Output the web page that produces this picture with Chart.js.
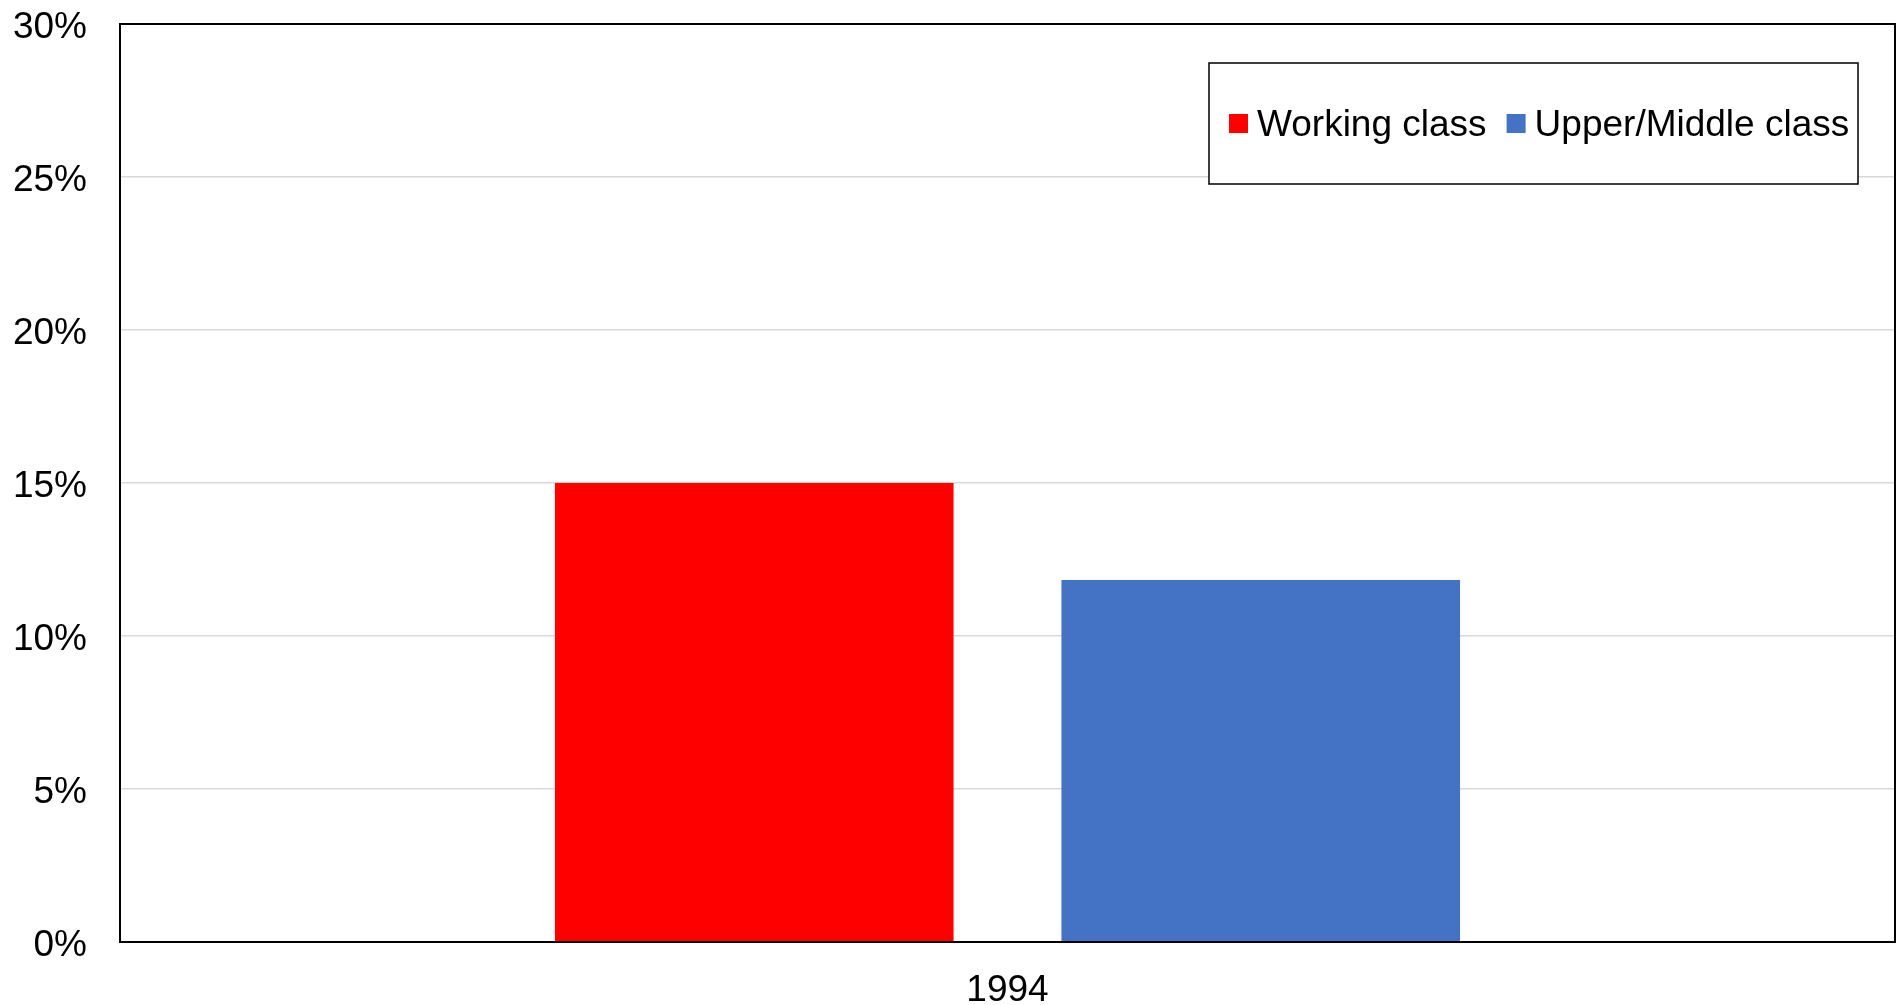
<!DOCTYPE html>
<html>
<head>
<meta charset="utf-8">
<script src="https://cdn.jsdelivr.net/npm/chart.js@4/dist/chart.umd.min.js"></script>
<style>
  html, body { margin: 0; padding: 0; background: #ffffff; }
  #wrap { width: 1896px; height: 1005px; position: relative; }
</style>
</head>
<body>
<div id="wrap"><canvas id="c" width="1896" height="1005"></canvas></div>
<script>
const categories = ['1994'];
const seriesLabels = ['Working class', 'Upper/Middle class'];
const workingClass = [15];
const upperMiddleClass = [11.83];
const seriesColors = ['#ff0000', '#4472c4'];
const yTickValues = [0, 5, 10, 15, 20, 25, 30];

const FONT = '"Liberation Sans", Arial, sans-serif';

const frameAndLegend = {
  id: 'frameAndLegend',
  afterDraw(chart) {
    const ctx = chart.ctx;
    const a = chart.chartArea;
    ctx.save();
    // plot frame
    ctx.strokeStyle = '#000000';
    ctx.lineWidth = 2;
    ctx.strokeRect(a.left, a.top, a.right - a.left, a.bottom - a.top);
    // legend box
    const bx = 1209, by = 63, bw = 649, bh = 121;
    ctx.fillStyle = '#ffffff';
    ctx.fillRect(bx, by, bw, bh);
    ctx.lineWidth = 1.5;
    ctx.strokeRect(bx, by, bw, bh);
    const cy = 123.5;
    ctx.font = '37px ' + FONT;
    ctx.textBaseline = 'middle';
    ctx.textAlign = 'left';
    let x = 1229;
    chart.data.datasets.forEach((ds) => {
      ctx.fillStyle = ds.backgroundColor;
      ctx.fillRect(x, cy - 9.5, 19, 19);
      ctx.fillStyle = '#000000';
      ctx.fillText(ds.label, x + 28, cy + 2);
      x = x + 28 + ctx.measureText(ds.label).width + 20;
    });
    ctx.restore();
  }
};

new Chart(document.getElementById('c'), {
  type: 'bar',
  data: {
    labels: categories,
    datasets: [
      { label: seriesLabels[0], data: workingClass, backgroundColor: seriesColors[0], borderWidth: 0 },
      { label: seriesLabels[1], data: upperMiddleClass, backgroundColor: seriesColors[1], borderWidth: 0 }
    ]
  },
  options: {
    responsive: false,
    animation: false,
    devicePixelRatio: 1,
    layout: { padding: { top: 24, right: 1, left: 0, bottom: 0 } },
    datasets: { bar: { categoryPercentage: 0.5707, barPercentage: 0.787 } },
    plugins: {
      legend: { display: false },
      tooltip: { enabled: false },
      title: { display: false }
    },
    scales: {
      x: {
        grid: { display: false, drawTicks: false },
        border: { display: true, color: '#000000', width: 2 },
        ticks: { color: '#000000', font: { family: FONT, size: 37 }, padding: 27 },
        afterFit(scale) { scale.height = 63; scale.paddingLeft = 0; scale.paddingRight = 0; }
      },
      y: {
        min: 0,
        max: 30,
        afterBuildTicks(scale) { scale.ticks = yTickValues.map(v => ({ value: v })); },
        grid: { color: '#d9d9d9', lineWidth: 1.5, drawTicks: false },
        border: { display: true, color: '#000000', width: 2 },
        ticks: {
          color: '#000000',
          font: { family: FONT, size: 37 },
          padding: 33,
          labelOffset: 4,
          callback: (v) => v + '%'
        },
        afterFit(scale) { scale.width = 120; scale.paddingTop = 0; scale.paddingBottom = 0; }
      }
    }
  },
  plugins: [frameAndLegend]
});
</script>
</body>
</html>
